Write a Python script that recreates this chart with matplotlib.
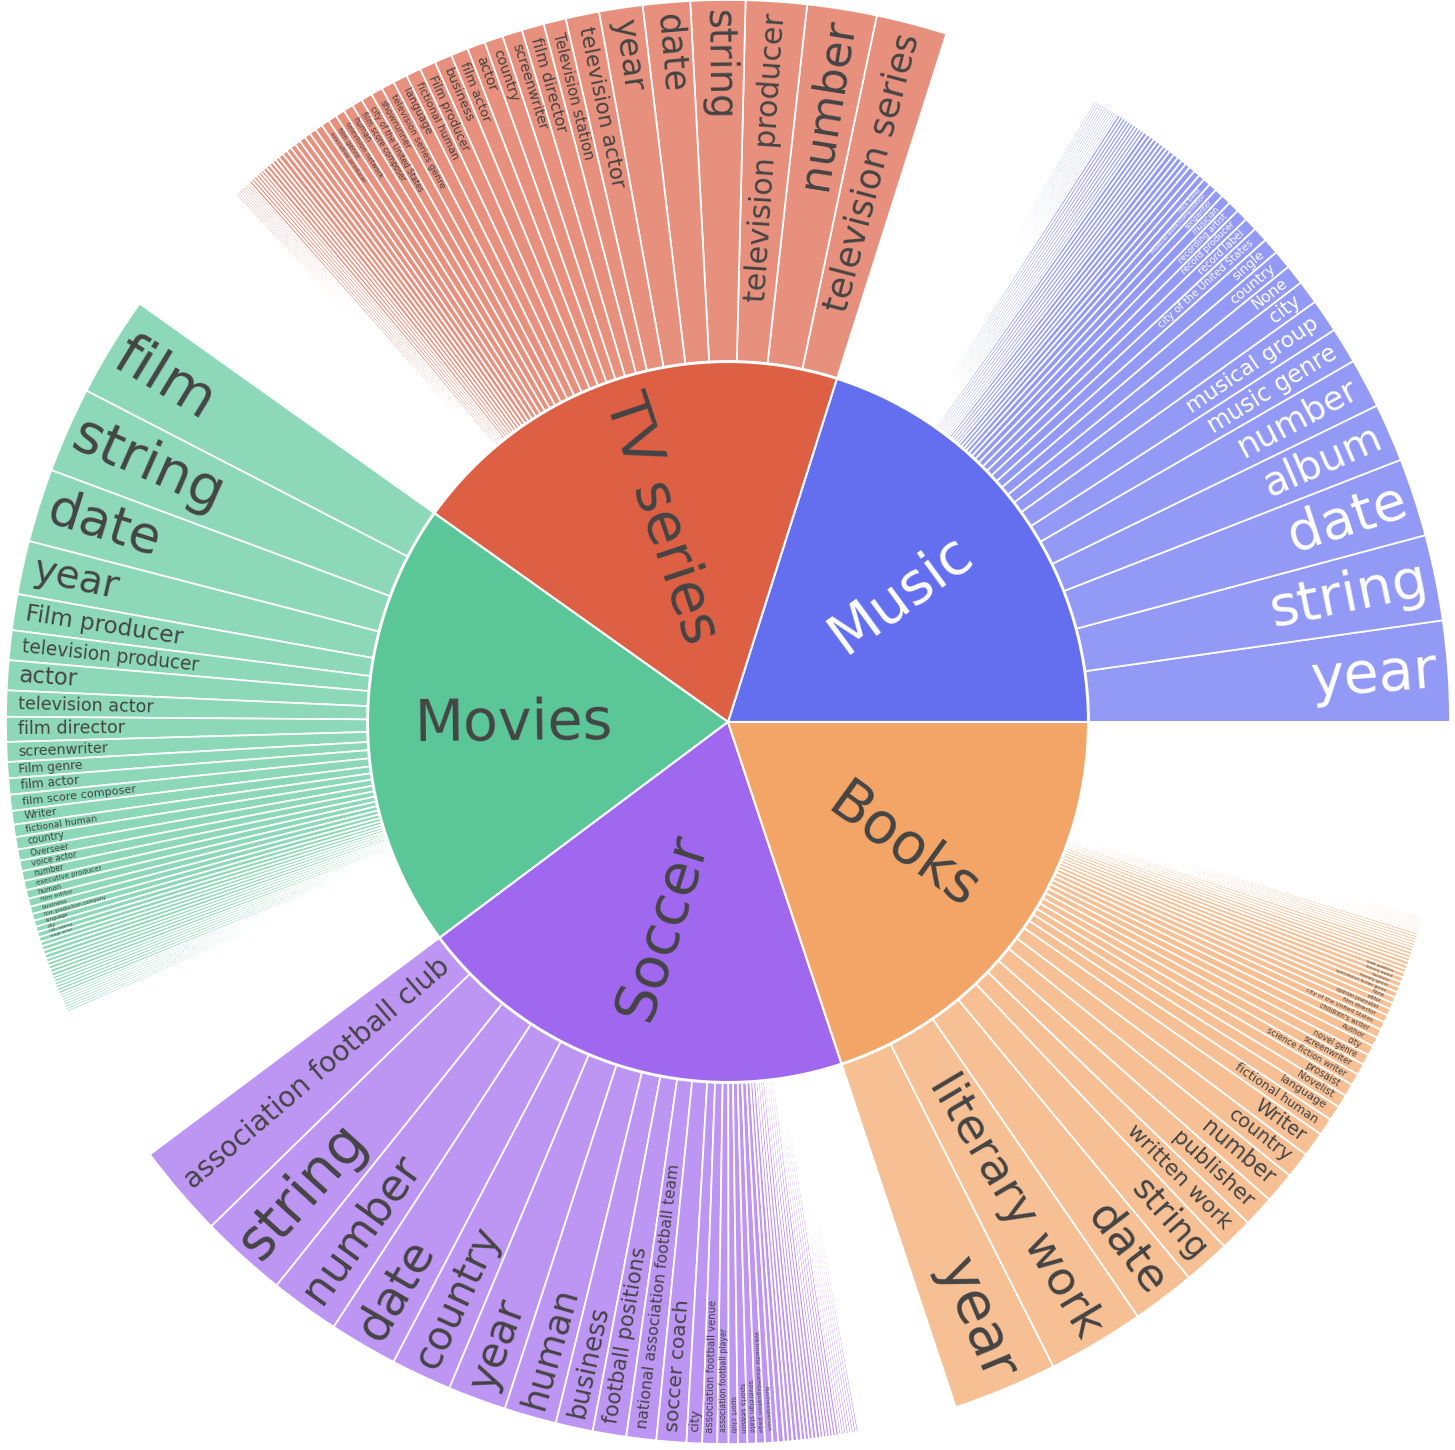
import numpy as np
import matplotlib
matplotlib.use("Agg")
import matplotlib.pyplot as plt
from matplotlib.textpath import TextPath
from matplotlib.font_manager import FontProperties

# ---------------- data (in degrees of arc) -------------
categories = ["Music", "TV series", "Movies", "Soccer", "Books"]
parent_colors = ["#646ff0", "#dd6045", "#5bc799", "#a068ee", "#f2a566"]
parent_text_colors = ["white", "#444444", "#444444", "#444444", "#444444"]
leaf_text_colors = ["white", "#444444", "#444444", "#444444", "#444444"]

music_labels = ["year", "string", "date", "album", "number", "music genre", "musical group",
                "city", "None", "country", "single", "city of the United States", "record label",
                "record producer", "recording artist", "musician", "songwriter",
                "musical work/composition", "rock band"]
music_values = [8.1, 6.9, 6.3, 4.7, 4.0, 2.9, 2.7, 1.9, 1.6, 1.5, 1.3, 1.2, 1.05, 0.95, 0.9,
                0.8, 0.7, 0.65, 0.6]
music_tail_sizes = [0.5, 0.4, 0.32, 0.25, 0.18, 0.12, 0.05]
music_tail_counts = [3, 5, 8, 10, 12, 12, 230]

tv_labels = ["television series", "number", "television producer", "string", "date", "year",
             "television actor", "Television station", "film director", "screenwriter",
             "country", "actor", "film actor", "business", "Film producer", "fictional human",
             "language", "television series genre", "showrunner", "city of the United States",
             "film score composer", "human", "television network", "film genre",
             "executive producer"]
tv_values = [5.7, 5.6, 4.9, 4.4, 3.8, 3.5, 2.7, 1.8, 1.8, 1.6, 1.5, 1.45, 1.4, 1.4, 1.3, 1.2,
             1.15, 1.05, 0.95, 0.9, 0.85, 0.8, 0.75, 0.7, 0.65]
tv_tail_sizes = [0.6, 0.55, 0.5, 0.45, 0.4, 0.32, 0.25, 0.18, 0.05]
tv_tail_counts = [1, 1, 2, 2, 3, 5, 6, 8, 231]

movies_labels = ["film", "string", "date", "year", "Film producer", "television producer",
                 "actor", "television actor", "film director", "screenwriter", "Film genre",
                 "film actor", "film score composer", "Writer", "fictional human", "country",
                 "Overseer", "voice actor", "number", "executive producer", "human",
                 "film editor", "business", "film production company", "language", "city",
                 "film editing", "stage actor"]
movies_values = [8.1, 6.9, 5.9, 4.3, 2.9, 2.4, 2.4, 2.1, 2.0, 1.6, 1.3, 1.3, 1.3, 1.1, 1.0,
                 1.0, 0.9, 0.85, 0.8, 0.75, 0.7, 0.65, 0.6, 0.55, 0.5, 0.45, 0.42, 0.4]
movies_tail_sizes = [0.35, 0.3, 0.25, 0.2, 0.14, 0.05]
movies_tail_counts = [4, 5, 6, 8, 10, 233]

soccer_labels = ["association football club", "string", "number", "date", "country", "year",
                 "human", "business", "football positions",
                 "national association football team", "soccer coach", "city",
                 "association football venue", "association football player", "sport club",
                 "sports season", "sovereign state", "Wikimedia disambiguation page",
                 "businessperson"]
soccer_values = [7.5, 7.0, 5.6, 5.5, 4.9, 4.7, 4.2, 3.0, 2.7, 2.4, 2.4, 1.25, 1.2, 0.9, 0.75,
                 0.75, 0.7, 0.7, 0.6]
soccer_tail_sizes = [0.45, 0.35, 0.3, 0.25, 0.2, 0.14, 0.05]
soccer_tail_counts = [2, 4, 5, 6, 8, 6, 142]

books_labels = ["year", "literary work", "date", "string", "written work", "publisher",
                "number", "country", "Writer", "fictional human", "language", "Novelist",
                "prosaist", "science fiction writer", "screenwriter", "novel genre", "city",
                "Author", "children's writer", "city of the United States", "film director",
                "opinion journalist", "editor", "None", "speculative fiction genre",
                "literary genre", "business", "literary award", "book publisher"]
books_values = [8.4, 7.8, 5.1, 3.75, 2.65, 2.5, 2.5, 2.1, 2.0, 1.4, 1.2, 1.05, 1.0, 0.95, 0.9,
                0.85, 0.8, 0.75, 0.7, 0.65, 0.6, 0.55, 0.5, 0.48, 0.46, 0.44, 0.42, 0.4, 0.38]
books_tail_sizes = [0.32, 0.27, 0.22, 0.16, 0.05]
books_tail_counts = [3, 4, 6, 8, 314]

groups = [
    (music_labels, music_values, music_tail_sizes, music_tail_counts),
    (tv_labels, tv_values, tv_tail_sizes, tv_tail_counts),
    (movies_labels, movies_values, movies_tail_sizes, movies_tail_counts),
    (soccer_labels, soccer_values, soccer_tail_sizes, soccer_tail_counts),
    (books_labels, books_values, books_tail_sizes, books_tail_counts),
]

# ---------------- layout constants -------------
W, H = 1455, 1450
DPI = 100
CX, CY = 728, H - 722
R_IN, R_OUT = 360, 722
PAD = 12
FMAX = 57.0      # px
HT = 1.2         # text box height in em
PT = 72.0 / DPI  # px -> pt

fp = FontProperties(family="DejaVu Sans")


def em_width(s):
    return TextPath((0, 0), s, size=1, prop=fp).get_extents().width


def mix_white(c, a=0.7):
    rgb = np.array(matplotlib.colors.to_rgb(c))
    return tuple(rgb * a + (1 - a))


def rot_for(theta):
    t = (theta + 180) % 360 - 180
    if -90 < t <= 90:
        return t
    return t - 180 if t > 0 else t + 180


leaf_vals, leaf_cols, leaf_names, leaf_group = [], [], [], []
parent_vals = []
for gi, (labs, vals, tsz, tcnt) in enumerate(groups):
    tail = [s for s, n in zip(tsz, tcnt) for _ in range(n)]
    allv = list(vals) + tail
    names = list(labs) + [None] * len(tail)
    leaf_vals += allv
    leaf_names += names
    leaf_cols += [mix_white(parent_colors[gi])] * len(allv)
    leaf_group += [gi] * len(allv)
    parent_vals.append(sum(allv))

fig = plt.figure(figsize=(W / DPI, H / DPI), dpi=DPI)
ax = fig.add_axes([0, 0, 1, 1])

outer, _ = ax.pie(leaf_vals, radius=R_OUT, center=(CX, CY), startangle=0,
                  counterclock=True, colors=leaf_cols,
                  wedgeprops=dict(width=R_OUT - R_IN - 1, edgecolor="white", linewidth=1.25))
inner, _ = ax.pie(parent_vals, radius=R_IN, center=(CX, CY), startangle=0,
                  counterclock=True, colors=parent_colors,
                  wedgeprops=dict(edgecolor="white", linewidth=1.5))

# leaf labels (radial, scaled to fit the slice)
for w, name, gi in zip(outer, leaf_names, leaf_group):
    if not name:
        continue
    t1, t2 = w.theta1, w.theta2
    dth = np.radians(t2 - t1)
    tc = 0.5 * (t1 + t2)
    k = em_width(name)
    f = min(FMAX, (R_OUT - PAD) * dth / (HT + k * dth), (R_OUT - R_IN - 2 * PAD) / k)
    if f < 2.5:
        continue
    rc = R_OUT - PAD - k * f / 2
    x = CX + rc * np.cos(np.radians(tc))
    y = CY + rc * np.sin(np.radians(tc))
    ax.text(x, y, name, fontsize=f * PT, color=leaf_text_colors[gi], rotation=rot_for(tc),
            rotation_mode="anchor", ha="center", va="center", family="DejaVu Sans")

# parent labels
for w, name, gi in zip(inner, categories, range(5)):
    tc = 0.5 * (w.theta1 + w.theta2)
    rc = 215
    x = CX + rc * np.cos(np.radians(tc))
    y = CY + rc * np.sin(np.radians(tc))
    ax.text(x, y, name, fontsize=57 * PT, color=parent_text_colors[gi], rotation=rot_for(tc),
            rotation_mode="anchor", ha="center", va="center", family="DejaVu Sans")

ax.set_xlim(0, W)
ax.set_ylim(0, H)
ax.set_aspect("equal")
ax.axis("off")
fig.savefig("out.png", dpi=DPI, facecolor="white")
